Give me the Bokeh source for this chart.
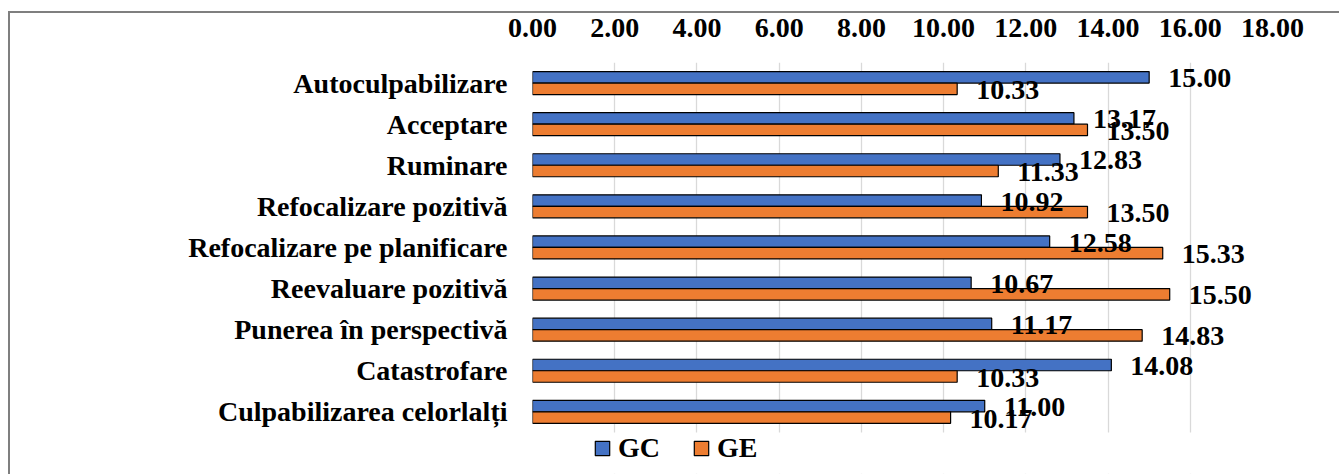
from bokeh.plotting import figure
from bokeh.models import (FactorRange, FixedTicker, NumeralTickFormatter, Legend,
                          LegendItem, ColumnDataSource, BoxAnnotation)
from bokeh.transform import dodge
from bokeh.embed import file_html
from bokeh.resources import INLINE
from bokeh.core.properties import value

categories = ["Autoculpabilizare", "Acceptare", "Ruminare", "Refocalizare pozitivă",
              "Refocalizare pe planificare", "Reevaluare pozitivă",
              "Punerea în perspectivă", "Catastrofare", "Culpabilizarea celorlalți"]
gc = [15.00, 13.17, 12.83, 10.92, 12.58, 10.67, 11.17, 14.08, 11.00]
ge = [10.33, 13.50, 11.33, 13.50, 15.33, 15.50, 14.83, 10.33, 10.17]
series_names = ["GC", "GE"]
x_ticks = [0, 2, 4, 6, 8, 10, 12, 14, 16, 18]

FONT = "Liberation Serif"
FS = "28px"
BLUE = "#4472C4"
ORANGE = "#ED7D31"

src = ColumnDataSource(dict(
    cat=categories, gc=gc, ge=ge,
    gc_lbl=[f"{v:.2f}" for v in gc],
    ge_lbl=[f"{v:.2f}" for v in ge],
))

# an empty factor at the bottom leaves room inside the frame for the legend row
p = figure(y_range=FactorRange("", *categories[::-1]), x_range=(0, 18),
           frame_width=740, frame_height=411, x_axis_location="above",
           output_backend="svg", toolbar_location=None,
           min_border_left=522, min_border_right=67,
           min_border_top=49, min_border_bottom=1)
p.margin = (11, 0, 0, 8)
p.styles = {"border-top": "2px solid #7f7f7f", "border-left": "2px solid #7f7f7f"}
p.outline_line_color = None
p.background_fill_color = "white"
p.border_fill_color = "white"

r1 = p.hbar(y=dodge("cat", 0.14, range=p.y_range), left=0, right="gc", height=0.28,
            fill_color=BLUE, line_color="black", line_width=1.2, source=src)
r2 = p.hbar(y=dodge("cat", -0.14, range=p.y_range), left=0, right="ge", height=0.28,
            fill_color=ORANGE, line_color="black", line_width=1.2, source=src)

for col, lbl, off in (("gc", "gc_lbl", 0.14), ("ge", "ge_lbl", -0.14)):
    p.text(x=col, y=dodge("cat", off, range=p.y_range), text=lbl, source=src,
           x_offset=19, y_offset=1, text_baseline="middle", text_align="left",
           text_font=value(FONT), text_font_style="bold", text_font_size=FS,
           text_color="black")

p.xaxis.ticker = FixedTicker(ticks=x_ticks)
p.xaxis.formatter = NumeralTickFormatter(format="0.00")
for ax in (p.xaxis, p.yaxis):
    ax.axis_line_color = None
    ax.major_tick_line_color = None
    ax.minor_tick_line_color = None
    ax.major_tick_out = 0
    ax.major_tick_in = 0
    ax.minor_tick_out = 0
    ax.major_label_text_font = FONT
    ax.major_label_text_font_style = "bold"
    ax.major_label_text_font_size = FS
    ax.major_label_text_color = "black"
p.xaxis.major_label_standoff = 26
p.yaxis.major_label_standoff = 25

p.xgrid.ticker = FixedTicker(ticks=x_ticks)
p.xgrid.grid_line_color = "#d9d9d9"
p.xgrid.grid_line_width = 1.3
p.ygrid.grid_line_color = None

# white strip hiding the grid lines in the legend row
p.add_layout(BoxAnnotation(bottom=0, top=1, fill_color="white", fill_alpha=1,
                           line_color=None))

legend = Legend(items=[LegendItem(label=series_names[0], renderers=[r1]),
                       LegendItem(label=series_names[1], renderers=[r2])],
                orientation="horizontal", location=(61, 9),
                glyph_width=18, glyph_height=18, label_standoff=7, spacing=32,
                padding=0, margin=0, border_line_color=None,
                background_fill_alpha=0,
                label_text_font=FONT, label_text_font_style="bold",
                label_text_font_size=FS, label_text_color="black")
p.add_layout(legend)

open("out.html", "w").write(file_html(p, INLINE))
